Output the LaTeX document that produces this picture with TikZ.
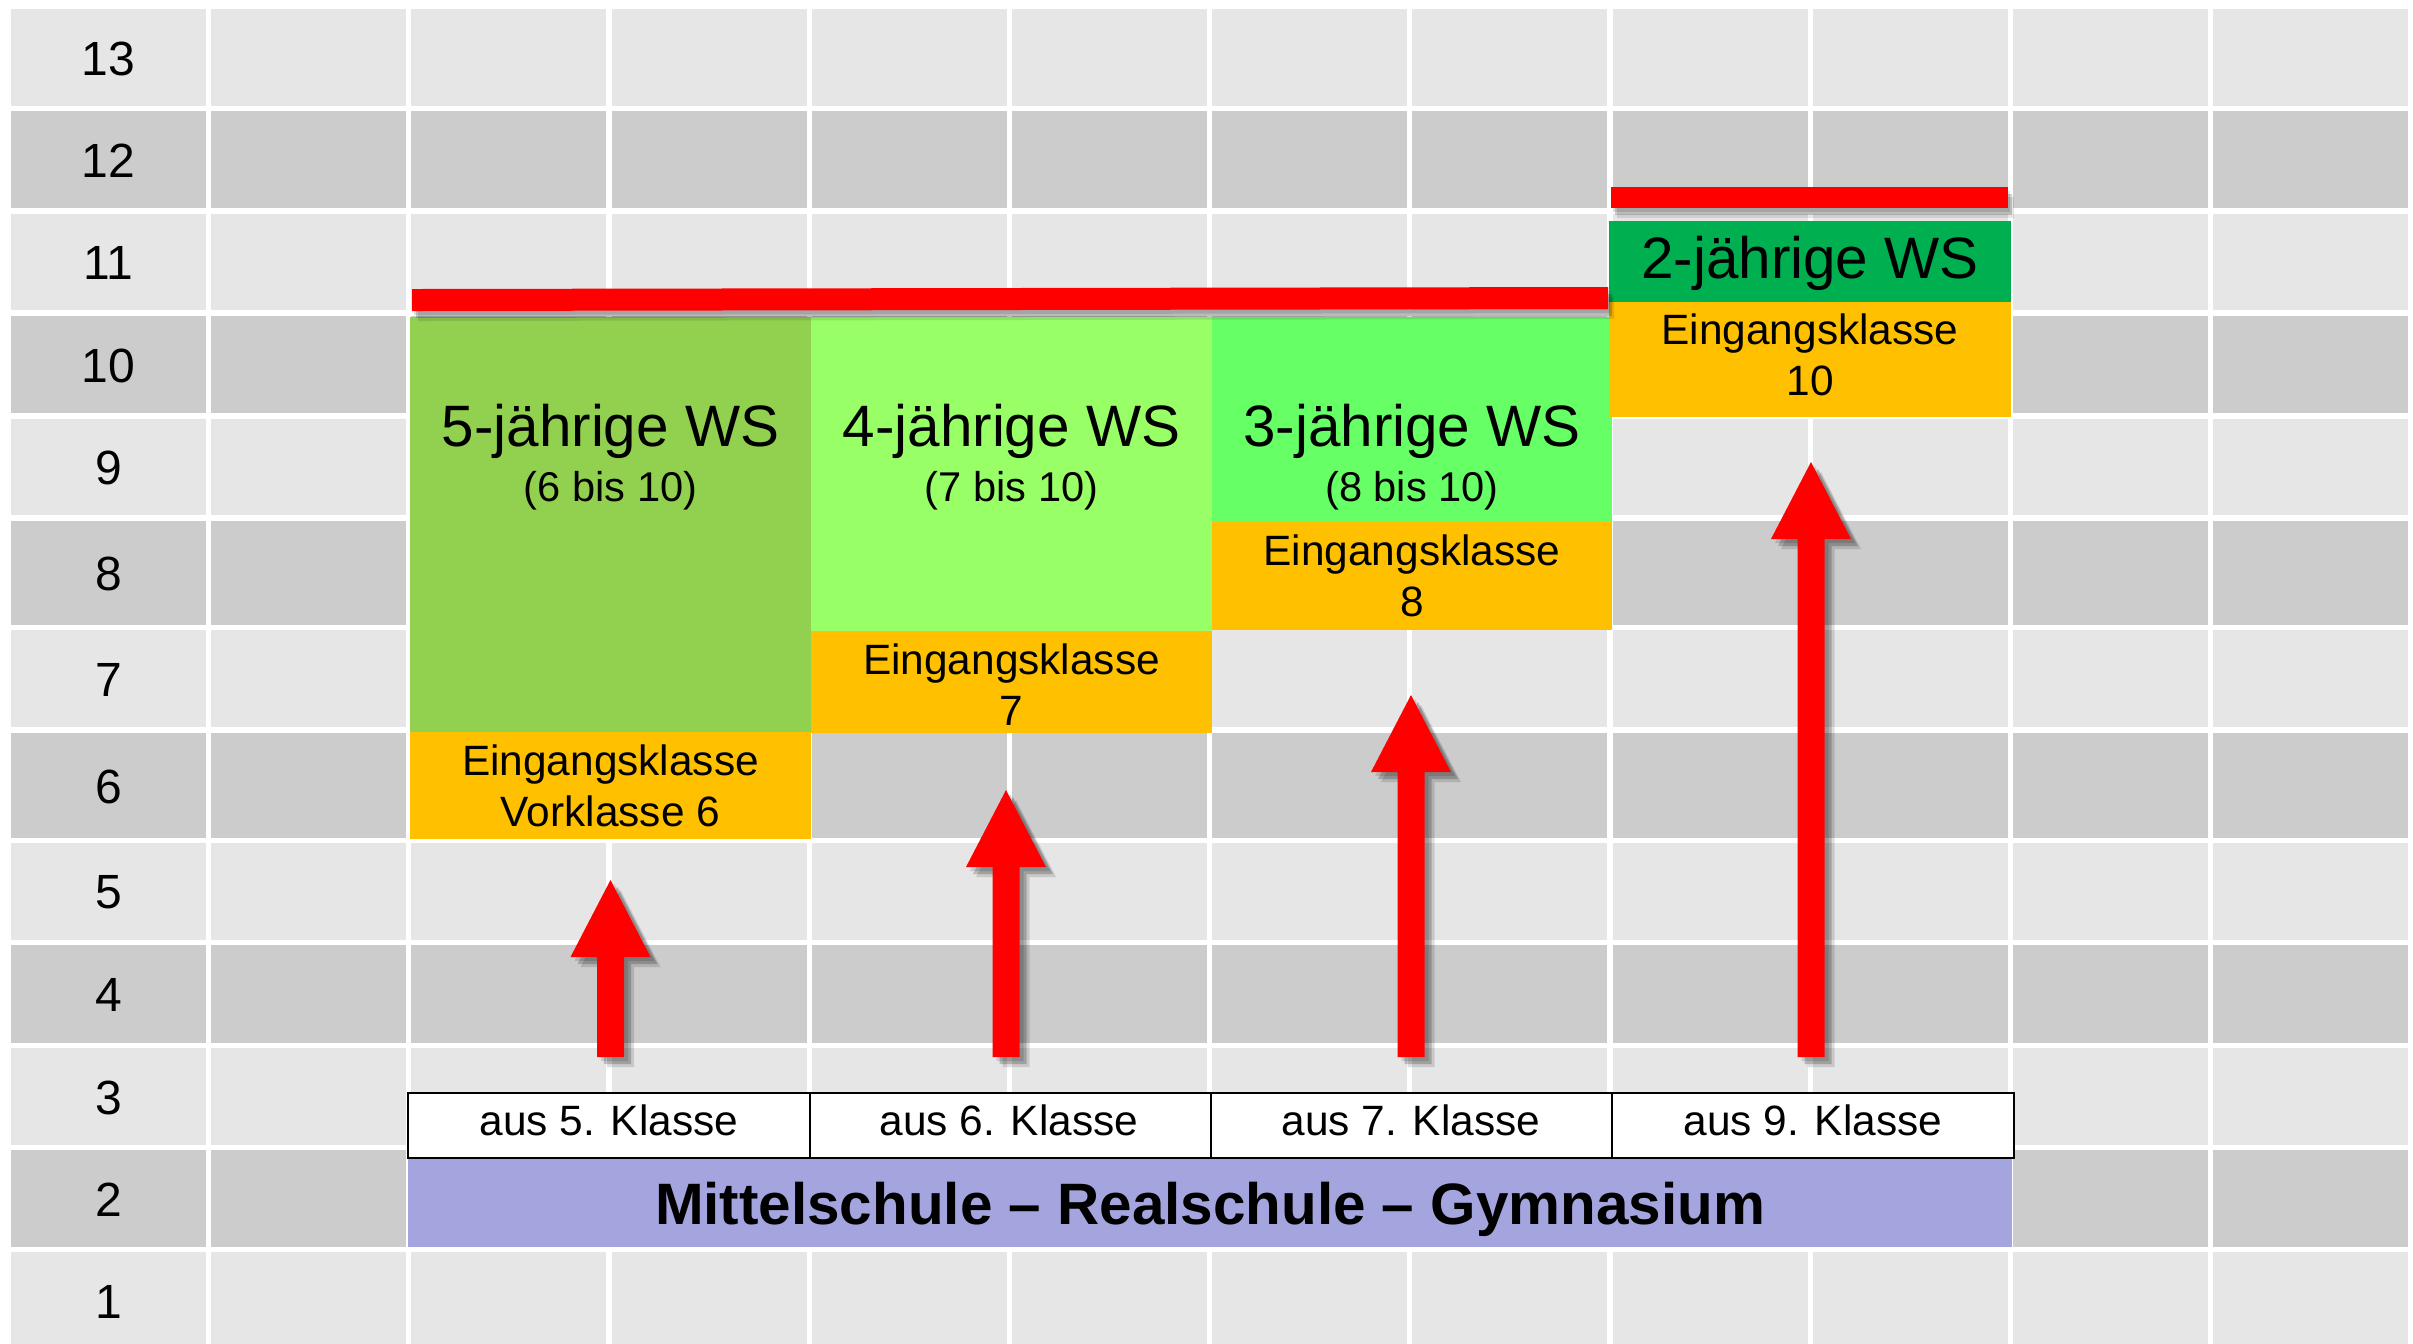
\documentclass[tikz,border=0pt]{standalone}
\usepackage{fontspec}
\setmainfont{Liberation Sans}
\usetikzlibrary{calc}
\definecolor{gl}{HTML}{E6E6E6}
\definecolor{gd}{HTML}{CCCCCC}
\definecolor{gfive}{HTML}{92D050}
\definecolor{gfour}{HTML}{99FF66}
\definecolor{gthree}{HTML}{66FF66}
\definecolor{gtwo}{HTML}{00B050}
\definecolor{og}{HTML}{FFC000}
\definecolor{pu}{HTML}{A4A4DF}
\definecolor{rd}{HTML}{FF0000}
\tikzset{
  rowlab/.style={font=\fontsize{12}{14}\selectfont, inner sep=0pt},
  wstitle/.style={font=\fontsize{14.6}{17.5}\selectfont, anchor=base, inner sep=0pt},
  wssub/.style={font=\fontsize{10.4}{12.5}\selectfont, anchor=base, inner sep=0pt},
  eintext/.style={font=\fontsize{10.6}{12.75}\selectfont, align=center, inner sep=0pt},
  austext/.style={font=\fontsize{10.6}{12.75}\selectfont, anchor=base, inner sep=0pt},
  mainlabel/.style={font=\bfseries\fontsize{14.6}{17.5}\selectfont, anchor=base, inner sep=0pt},
  ausbox/.style={draw=black, line width=0.5pt, fill=white},
}
\newcommand\blkarrow[2]{%
  \foreach \dx/\op in {4/0.13,7/0.2,10/0.13}{%
    \begin{scope}[transform canvas={shift={(\dx,\dx)}}]
      \fill[black,opacity=\op] (#2) -- ++(40,77) -- ++(-26.5,0) -- ($(#1)+(13.5,0)$) -- ++(-27,0) -- ($(#2)+(-13.5,77)$) -- ++(-26.5,0) -- cycle;
    \end{scope}}
  \fill[rd] (#2) -- ++(40,77) -- ++(-26.5,0) -- ($(#1)+(13.5,0)$) -- ++(-27,0) -- ($(#2)+(-13.5,77)$) -- ++(-26.5,0) -- cycle;}
\begin{document}
\begin{tikzpicture}[x=0.25pt,y=-0.25pt]
\useasboundingbox (0,0) rectangle (2413,1343);
\fill[white] (0,0) rectangle (2413,1343);
% grid
\begin{scope}
\clip (0,0) rectangle (2413,1343);
\foreach \lab/\t/\b/\c in {13/9/106/gl,12/111/208/gd,11/214/310/gl,10/316/413/gd,9/419/515/gl,8/521/625/gd,7/630/727/gl,6/733/838/gd,5/843/940/gl,4/945/1043/gd,3/1048/1145/gl,2/1150/1247/gd,1/1252/1349/gl}{
  \foreach \i in {0,...,11}{\fill[\c] ({11+200.2*\i},\t) rectangle ({206+200.2*\i},\b);}
  \node[rowlab] (row\lab) at (108.5,{(\t+\b)/2+1}) {\lab};
}
\end{scope}
% school blocks
\fill[gfive] (410,317) rectangle (811,732);
\fill[og] (410,732) rectangle (811,839);
\fill[gfour] (811,317) rectangle (1212,631);
\fill[og] (811,631) rectangle (1212,733);
\fill[gthree] (1212,317) rectangle (1612,522);
\fill[og] (1212,522) rectangle (1612,630);
\fill[gtwo] (1609,221) rectangle (2011,302);
\fill[og] (1609,302) rectangle (2011,417);
% red bars with shadows
\foreach \dx/\dy/\op in {2/4/0.12,4/7/0.18,6/10/0.1}{
  \fill[black,opacity=\op,shift={(\dx,\dy)}] (412,289) -- (1608,287) -- (1608,309) -- (412,311) -- cycle;
  \fill[black,opacity=\op,shift={(\dx,\dy)}] (1611,187) -- (2008,187) -- (2008,208) -- (1611,208) -- cycle;
}
\fill[rd] (412,289) -- (1608,287) -- (1608,309) -- (412,311) -- cycle;
\fill[rd] (1611,187) -- (2008,187) -- (2008,208) -- (1611,208) -- cycle;
% bottom bars
\fill[pu] (408,1158) rectangle (2012,1247);
\draw[ausbox] (408,1093) rectangle (810,1158);
\draw[ausbox] (810,1093) rectangle (1211,1158);
\draw[ausbox] (1211,1093) rectangle (1612,1158);
\draw[ausbox] (1612,1093) rectangle (2014,1158);
\node[austext] (a5) at (609,1135) {aus 5. Klasse};
\node[austext] (a6) at (1009,1135) {aus 6. Klasse};
\node[austext] (a7) at (1411,1135) {aus 7. Klasse};
\node[austext] (a9) at (1813,1135) {aus 9. Klasse};
\node[mainlabel] (ms) at (1210,1224) {Mittelschule – Realschule – Gymnasium};
% arrows
\coordinate (b5) at (610.5,1057); \coordinate (t5) at (610.5,880);
\coordinate (b6) at (1006,1057);  \coordinate (t6) at (1006,790);
\coordinate (b7) at (1411,1057);  \coordinate (t7) at (1411,695);
\coordinate (b9) at (1811,1057);  \coordinate (t9) at (1811,462);
\blkarrow{b5}{t5}
\blkarrow{b6}{t6}
\blkarrow{b7}{t7}
\blkarrow{b9}{t9}
% texts
\node[wstitle] (h5) at (610.5,446) {5-jährige WS};
\node[wssub] (s5) at (610.5,501) {(6 bis 10)};
\node[wstitle] (h4) at (1011.5,446) {4-jährige WS};
\node[wssub] (s4) at (1011.5,501) {(7 bis 10)};
\node[wstitle] (h3) at (1412,446) {3-jährige WS};
\node[wssub] (s3) at (1412,501) {(8 bis 10)};
\node[wstitle] (h2) at (1810,278) {2-jährige WS};
\node[eintext] (e5) at (610.5,785.5) {Eingangsklasse\\Vorklasse 6};
\node[eintext] (e4) at (1011.5,685) {Eingangsklasse\\7};
\node[eintext] (e3) at (1412,576) {Eingangsklasse\\8};
\node[eintext] (e2) at (1810,355) {Eingangsklasse\\10};
\end{tikzpicture}
\end{document}
